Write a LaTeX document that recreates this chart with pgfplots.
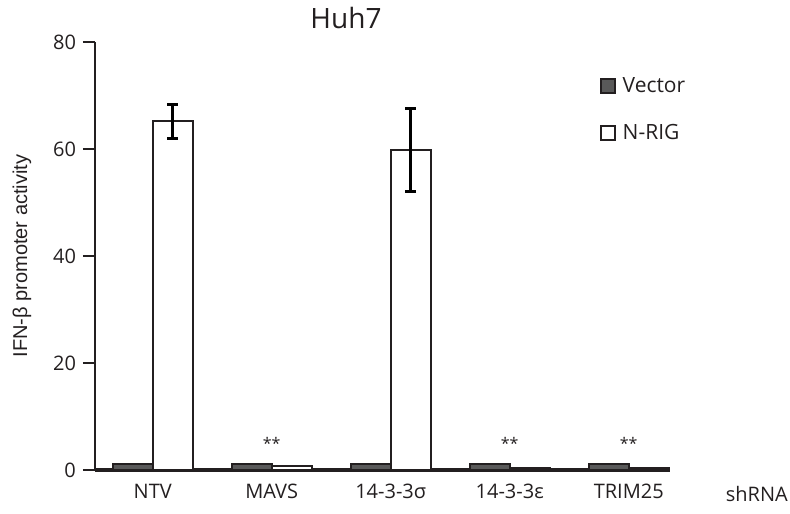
\documentclass[border=0pt]{standalone}
\usepackage{pgfplots}
\pgfplotsset{compat=1.18}
\usepackage{fontspec}
\setmainfont{Open Sans}
\newfontfamily\arialfont{Liberation Sans}

\definecolor{vecgray}{HTML}{595959}
\definecolor{edge}{HTML}{231F20}

\begin{document}
\begin{tikzpicture}
% 1 px of the reference = 0.5pt
\useasboundingbox (-47.5pt,-21.5pt) rectangle (347.5pt,235pt);
\begin{axis}[
  at={(0,0)}, anchor=south west,
  scale only axis, width=287.5pt, height=214pt,
  xmin=-0.485, xmax=4.347, ymin=0, ymax=80,
  axis x line=bottom, axis y line=left,
  x axis line style={line width=1.6pt, edge, -},
  y axis line style={line width=1.1pt, edge, -},
  xtick={0,1,2,3,4},
  xticklabels={NTV, MAVS, 14-3-3σ, 14-3-3ε, TRIM25},
  ytick={0,20,40,60,80},
  tick align=outside,
  major tick length=6pt,
  x tick style={draw=none},
  y tick style={line width=1.1pt, edge},
  xticklabel style={yshift=2.5pt},
  tick label style={font=\fontsize{10}{12}\selectfont, text=edge},
  /pgf/number format/assume math mode=true,
  ylabel={\arialfont IFN-β promoter activity},
  ylabel style={at={(axis description cs:-0.127,0.5)}, anchor=center,
                font=\fontsize{10}{12}\selectfont, text=edge},
  title={Huh7},
  title style={at={(axis description cs:0.4365,1.028)}, anchor=center,
               font=\fontsize{14}{17}\selectfont, text=edge},
  legend image code/.code={\draw[#1] (0pt,-3.5pt) rectangle (7pt,3.5pt);},
  legend style={at={(axis description cs:0.877,0.928)}, anchor=north west,
                draw=none, fill=none, inner sep=0pt,
                font=\fontsize{10.5}{12}\selectfont, text=edge,
                row sep=10.5pt,
                nodes={inner xsep=3.5pt}},
  legend cell align=left,
  clip=false,
]
% Vector
\addplot[ybar, bar width=0.336, bar shift=-0.168, fill=vecgray, draw=edge, line width=1pt]
  coordinates {(0,1.1) (1,1.1) (2,1.1) (3,1.1) (4,1.1)};
\addlegendentry{Vector}
% N-RIG
\addplot[ybar, bar width=0.336, bar shift=0.168, fill=white, draw=edge, line width=1pt]
  coordinates {(0,65.2) (1,0.75) (2,59.8) (3,0.45) (4,0.45)};
\addlegendentry{N-RIG}
% error bars of N-RIG (at the bar centres)
\addplot[draw=none, mark=none, forget plot,
  error bars/.cd, y dir=both, y explicit,
  error bar style={line width=1.5pt, black},
  error mark options={rotate=90, mark size=2.7pt, line width=1.5pt, black}]
  coordinates {(0.168,65.2) +- (0,3.2) (2.168,59.8) +- (0,7.7)};
% significance marks
\node[font=\fontsize{8}{9}\selectfont, text=edge] at (axis cs:1,5) {**};
\node[font=\fontsize{8}{9}\selectfont, text=edge] at (axis cs:3,5) {**};
\node[font=\fontsize{8}{9}\selectfont, text=edge] at (axis cs:4,5) {**};
\node[font=\fontsize{10}{12}\selectfont, text=edge] at (axis description cs:1.151,-0.056) {shRNA};
\end{axis}
\end{tikzpicture}
\end{document}
